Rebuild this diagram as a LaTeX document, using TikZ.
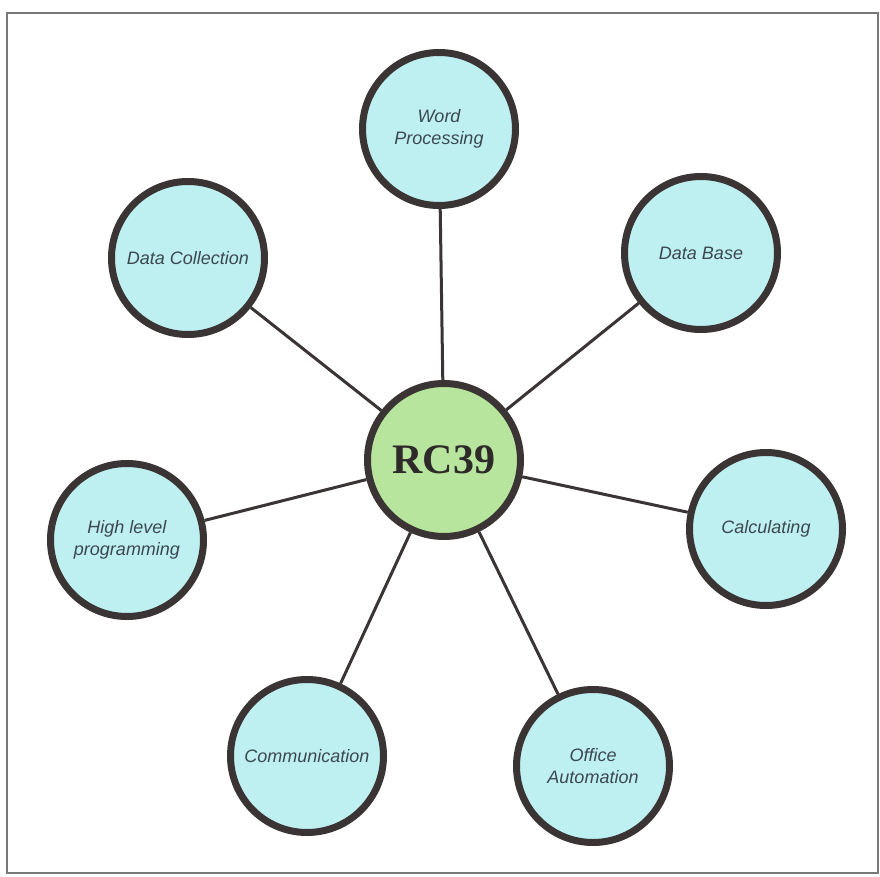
\documentclass[tikz,border=0pt]{standalone}
\usepackage{fontspec}
\newfontfamily\labelfont{Liberation Sans}
\newfontfamily\hubfont{Liberation Serif}
\definecolor{ringgray}{RGB}{58,52,52}
\definecolor{topiccyan}{RGB}{190,240,242}
\definecolor{hubgreen}{RGB}{184,229,158}
\definecolor{labelgray}{RGB}{60,72,80}
\definecolor{framegray}{RGB}{120,120,120}
\tikzstyle{topic} = [draw=ringgray, line width=7pt, circle, fill=topiccyan,
  minimum size=153pt, inner sep=0pt, align=center, text=labelgray,
  font=\labelfont\itshape\fontsize{18}{22}\selectfont]
\tikzstyle{hub} = [topic, fill=hubgreen, text=ringgray!80!black,
  font=\hubfont\bfseries\fontsize{42}{46}\selectfont]
\tikzstyle{spoke} = [draw=ringgray, line width=3pt]

\begin{document}
\begin{tikzpicture}[x=1pt,y=-1pt]
  \useasboundingbox (0,0) rectangle (880,877);
  \draw[framegray, line width=1.5pt] (7,13) rectangle (878,873);
  \node[hub] (rc) at (444,460) {RC39};
  \node[topic] (word) at (439,129) {Word\\Processing};
  \node[topic] (collect) at (188,258) {Data Collection};
  \node[topic] (base) at (701,253) {Data Base};
  \node[topic] (high) at (127,540) {High level\\programming};
  \node[topic] (calc) at (766,529) {Calculating};
  \node[topic] (comm) at (307,756) {Communication};
  \node[topic] (office) at (593,766) {Office\\Automation};
  \draw[spoke] (rc) -- (word);
  \draw[spoke] (rc) -- (collect);
  \draw[spoke] (rc) -- (base);
  \draw[spoke] (rc) -- (high);
  \draw[spoke] (rc) -- (calc);
  \draw[spoke] (rc) -- (comm);
  \draw[spoke] (rc) -- (office);
\end{tikzpicture}
\end{document}
